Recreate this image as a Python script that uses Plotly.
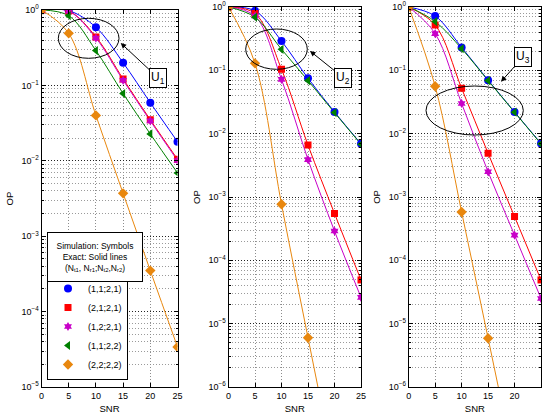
import plotly.graph_objects as go

# ---------------- data ----------------
snr = [0, 5, 10, 15, 20, 25]
series_names = ["(1,1;2,1)", "(2,1;2,1)", "(1,2;2,1)", "(1,1;2,2)", "(2,2;2,2)"]

# panel 1 (U1)
p1_a = [1.0, 0.98, 0.59, 0.20, 0.059, 0.0179]
p1_b = [1.0, 0.97, 0.44, 0.122, 0.035, 0.0105]
p1_c = [1.0, 0.965, 0.425, 0.117, 0.0338, 0.0101]
p1_d = [1.0, 0.84, 0.29, 0.078, 0.0227, 0.0069]
p1_e = [1.0, 0.49, 0.040, 0.0037, 3.5e-4, 3.4e-5]

# panel 2 (U2)
p2_a = [1.0, 0.87, 0.29, 0.075, 0.022, 0.0069]
p2_b = [1.0, 0.79, 0.104, 0.0066, 5.5e-4, 4.9e-5]
p2_c = [1.0, 0.72, 0.072, 0.0039, 2.9e-4, 2.6e-5]
p2_d = [1.0, 0.69, 0.215, 0.069, 0.0215, 0.0068]
p2_e = [1.0, 0.129, 7.7e-4, 6.0e-6, 5e-8, 4e-10]

# panel 3 (U3)
p3_a = [1.0, 0.72, 0.23, 0.070, 0.022, 0.0070]
p3_b = [1.0, 0.52, 0.052, 0.0049, 4.9e-4, 4.9e-5]
p3_c = [1.0, 0.38, 0.030, 0.0025, 2.5e-4, 2.5e-5]
p3_d = [1.0, 0.59, 0.22, 0.069, 0.0218, 0.0069]
p3_e = [1.0, 0.056, 5.8e-4, 5.9e-6, 6e-8, 6e-10]

panels = [
    [p1_a, p1_b, p1_c, p1_d, p1_e],
    [p2_a, p2_b, p2_c, p2_d, p2_e],
    [p3_a, p3_b, p3_c, p3_d, p3_e],
]
decades = [5, 6, 6]

# ---------------- styles ----------------
colors = ["#0000FF", "#FF0000", "#C800C8", "#008000", "#E8870E"]
symbols = ["circle", "square", "hexagram", "triangle-left", "diamond"]
msizes = [8, 7, 7, 8, 8]
FONT = "Liberation Sans, Arial, Helvetica, sans-serif"

W, H = 543, 418
def px(x):
    return x / W
def py(y):
    return 1 - y / H

# plot areas in pixels (left, right, top, bottom)
boxes = [(41.5, 177.5, 10, 387), (228.5, 361, 7, 387), (408.7, 541, 7, 387)]

fig = go.Figure()

for k, (series, nd) in enumerate(zip(panels, decades)):
    xa = "x" if k == 0 else f"x{k+1}"
    ya = "y" if k == 0 else f"y{k+1}"
    for i, vals in enumerate(series):
        fig.add_trace(go.Scatter(
            x=snr, y=vals, mode="lines", xaxis=xa, yaxis=ya,
            line=dict(color=colors[i], width=1, shape="spline", smoothing=1),
            showlegend=False, hoverinfo="skip"))
    for i, vals in enumerate(series):
        fig.add_trace(go.Scatter(
            x=snr, y=vals, mode="markers", xaxis=xa, yaxis=ya,
            marker=dict(color=colors[i], symbol=symbols[i], size=msizes[i],
                        line=dict(width=0)),
            name=series_names[i], showlegend=(k == 0)))

DOT = "1px,2px"
layout_axes = {}
for k, nd in enumerate(decades):
    l, r, t, b = boxes[k]
    xkey = "xaxis" if k == 0 else f"xaxis{k+1}"
    ykey = "yaxis" if k == 0 else f"yaxis{k+1}"
    xa = "x" if k == 0 else f"x{k+1}"
    ya = "y" if k == 0 else f"y{k+1}"
    tickvals = [10.0 ** (-e) for e in range(nd, -1, -1)]
    ticktext = [("10<sup>" + ("" if e == 0 else "\u2212") + str(e) + "</sup>") for e in range(nd, -1, -1)]
    minor_vals = [m * 10.0 ** (-e) for e in range(nd, 0, -1) for m in range(2, 10)]
    layout_axes[xkey] = dict(
        domain=[px(l), px(r)], anchor=ya, range=[0, 25],
        tickvals=[0, 5, 10, 15, 20, 25], ticks="inside", ticklen=4, tickcolor="black",
        showline=True, linecolor="black", linewidth=1, mirror="ticks",
        showgrid=True, gridcolor="#8c8c8c", griddash=DOT, gridwidth=1,
        zeroline=False, automargin=False,
        tickfont=dict(size=9, family=FONT, color="black"),
        title=dict(text="SNR", font=dict(size=9.5, family=FONT, color="black"), standoff=5),
    )
    layout_axes[ykey] = dict(
        domain=[py(b), py(t)], anchor=xa, type="log", range=[-nd, 0],
        tickmode="array", tickvals=tickvals, ticktext=ticktext,
        ticks="inside", ticklen=4, tickcolor="black",
        showline=True, linecolor="black", linewidth=1, mirror="ticks",
        showgrid=True, gridcolor="#222222", griddash=DOT, gridwidth=1,
        minor=dict(tickvals=minor_vals, ticks="inside", ticklen=2, tickcolor="black",
                   showgrid=True, gridcolor="#9a9a9a", griddash=DOT, gridwidth=1),
        zeroline=False, automargin=False,
        tickfont=dict(size=9, family=FONT, color="black"),
        title=dict(text="OP", font=dict(size=9.5, family=FONT, color="black"), standoff=6),
    )

# ellipses (pixel boxes)
ellipses = [(58.3, 119, 18.3, 58.3), (245.7, 307.3, 29, 69.3), (426, 523.3, 86, 135)]
shapes = []
for (x0, x1, y0, y1) in ellipses:
    shapes.append(dict(type="circle", xref="paper", yref="paper",
                       x0=px(x0), x1=px(x1), y0=py(y1), y1=py(y0),
                       line=dict(color="black", width=1), layer="above"))

# U labels: arrow head position and text offset
u_labels = [("U<sub>1</sub>", 120.7, 43, 37, 34.5),
            ("U<sub>2</sub>", 310, 51, 33, 26.5),
            ("U<sub>3</sub>", 501, 81.7, 22, -24.7)]
annotations = []
for txt, hx, hy, axo, ayo in u_labels:
    annotations.append(dict(
        text=txt, xref="paper", yref="paper", x=px(hx), y=py(hy),
        ax=axo, ay=ayo, showarrow=True, arrowhead=2, arrowsize=1.1, arrowwidth=1,
        arrowcolor="black", bordercolor="black", borderwidth=1, borderpad=1,
        bgcolor="white", font=dict(size=12, family=FONT, color="black")))

# legend header box
annotations.append(dict(
    text="Simulation: Symbols<br>Exact: Solid lines<br>(N<sub>t1</sub>, N<sub>r1</sub>;N<sub>t2</sub>,N<sub>r2</sub>)",
    xref="paper", yref="paper", x=px(47), y=py(282), xanchor="left", yanchor="bottom",
    showarrow=False, align="center", width=92, height=46,
    bordercolor="black", borderwidth=1, borderpad=1, bgcolor="white",
    font=dict(size=8.5, family=FONT, color="black")))

fig.update_layout(
    width=W, height=H, margin=dict(l=0, r=0, t=0, b=0),
    paper_bgcolor="white", plot_bgcolor="white",
    font=dict(family=FONT, color="black"),
    showlegend=True,
    legend=dict(x=px(47), y=py(380), xanchor="left", yanchor="bottom",
                bgcolor="white", bordercolor="black", borderwidth=1,
                font=dict(size=9, family=FONT, color="black"),
                itemsizing="trace", tracegroupgap=0),
    shapes=shapes, annotations=annotations,
    **layout_axes,
)

fig.write_html("out.html")
